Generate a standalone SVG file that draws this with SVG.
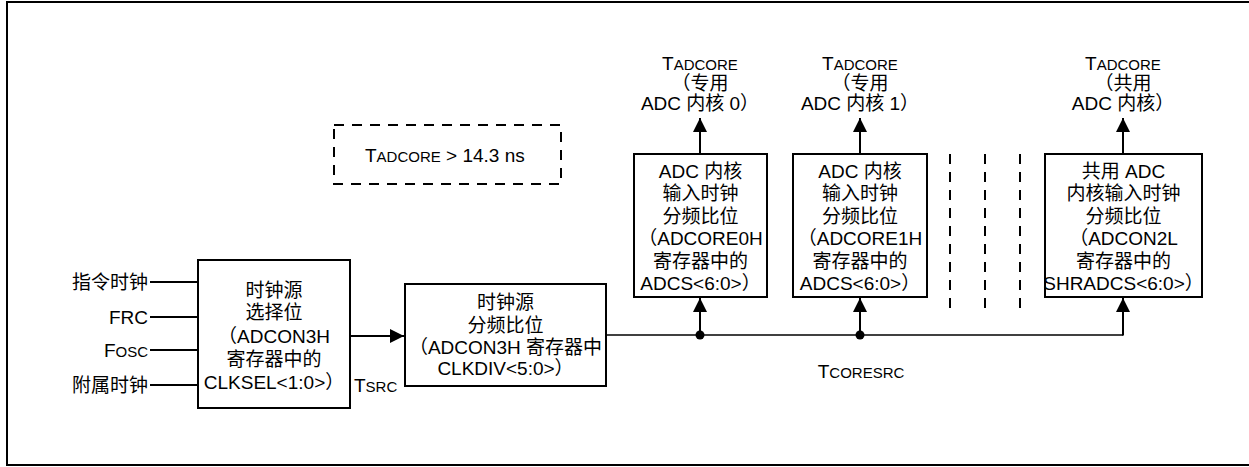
<svg xmlns="http://www.w3.org/2000/svg" width="1249" height="467" viewBox="0 0 1249 467">
<style>
text{font-family:"Liberation Sans","Noto Sans CJK SC",sans-serif;font-size:19px;fill:#000}
.m{text-anchor:middle}
.e{text-anchor:end}
.sc{font-size:15px}
.box{fill:#fff;stroke:#000;stroke-width:2}
.ln{fill:none;stroke:#000;stroke-width:2}
.bus{fill:none;stroke:#000;stroke-width:1.3}
.dash{fill:none;stroke:#000;stroke-width:2;stroke-dasharray:10 8}
</style>
<defs>
<marker id="ah" markerUnits="userSpaceOnUse" markerWidth="15" markerHeight="14" refX="14" refY="7" orient="auto">
<path d="M0,0 L14,7 L0,14 z" fill="#000"/>
</marker>
</defs>
<rect width="1249" height="467" fill="#fff"/>
<path d="M1249,2 H7 V465 H1249" fill="none" stroke="#000" stroke-width="2"/>

<g id="inputs">
<text class="e" x="148" y="289">指令时钟</text>
<text class="e" x="148" y="324">FRC</text>
<text class="e" x="148" y="357">F<tspan class="sc">OSC</tspan></text>
<text class="e" x="148" y="392">附属时钟</text>
</g>

<g id="connectors">
<path class="ln" d="M150,282 H198 M150,317 H198 M150,350 H198 M150,385 H198"/>
<path class="ln" d="M350,336 H404" marker-end="url(#ah)"/>
<path class="bus" d="M606,335 H1123"/>
<path class="ln" d="M1123,335.6 V298" marker-end="url(#ah)"/>
<path class="ln" d="M700,335 V298" marker-end="url(#ah)"/>
<path class="ln" d="M860,335 V298" marker-end="url(#ah)"/>
<circle cx="700" cy="335" r="4.5" fill="#000"/>
<circle cx="860" cy="335" r="4.5" fill="#000"/>
<path class="ln" d="M700,154 V118" marker-end="url(#ah)"/>
<path class="ln" d="M860,154 V118" marker-end="url(#ah)"/>
<path class="ln" d="M1123,154 V118" marker-end="url(#ah)"/>
<path class="dash" d="M950,154 V312 M985,154 V312 M1020,154 V312"/>
</g>

<g id="clksel">
<rect class="box" x="198" y="260" width="152" height="148"/>
<text class="m" x="274" y="297">时钟源</text>
<text class="m" x="274" y="319">选择位</text>
<text class="m" x="274" y="343">（ADCON3H</text>
<text class="m" x="274" y="366">寄存器中的</text>
<text class="m" x="274" y="389">CLKSEL&lt;1:0&gt;）</text>
</g>

<g id="tsrc">
<text x="354" y="392">T<tspan class="sc">SRC</tspan></text>
</g>

<g id="clkdiv">
<rect class="box" x="405" y="284" width="201" height="102"/>
<text class="m" x="505.5" y="309">时钟源</text>
<text class="m" x="505.5" y="332">分频比位</text>
<text class="m" x="505.5" y="354">（ADCON3H 寄存器中</text>
<text class="m" x="505.5" y="375">CLKDIV&lt;5:0&gt;）</text>
</g>

<g id="tcoresrc">
<text class="m" x="861" y="378">T<tspan class="sc">CORESRC</tspan></text>
</g>

<g id="note">
<rect class="dash" x="334" y="125" width="227" height="59"/>
<text x="365" y="162">T<tspan class="sc">ADCORE</tspan> &gt; 14.3 ns</text>
</g>

<g id="core0">
<rect class="box" x="634" y="154" width="133" height="143"/>
<text class="m" x="700.5" y="178">ADC 内核</text>
<text class="m" x="700.5" y="200">输入时钟</text>
<text class="m" x="700.5" y="223">分频比位</text>
<text class="m" x="700.5" y="245">（ADCORE0H</text>
<text class="m" x="700.5" y="268">寄存器中的</text>
<text class="m" x="700.5" y="290">ADCS&lt;6:0&gt;）</text>
</g>
<g id="core0-label">
<text class="m" x="700" y="70">T<tspan class="sc">ADCORE</tspan></text>
<text class="m" x="700" y="90">（专用</text>
<text class="m" x="700" y="110">ADC 内核 0）</text>
</g>

<g id="core1">
<rect class="box" x="793" y="154" width="134" height="143"/>
<text class="m" x="860" y="178">ADC 内核</text>
<text class="m" x="860" y="200">输入时钟</text>
<text class="m" x="860" y="223">分频比位</text>
<text class="m" x="860" y="245">（ADCORE1H</text>
<text class="m" x="860" y="268">寄存器中的</text>
<text class="m" x="860" y="290">ADCS&lt;6:0&gt;）</text>
</g>
<g id="core1-label">
<text class="m" x="860" y="70">T<tspan class="sc">ADCORE</tspan></text>
<text class="m" x="860" y="90">（专用</text>
<text class="m" x="860" y="110">ADC 内核 1）</text>
</g>

<g id="shared">
<rect class="box" x="1045" y="154" width="157" height="143"/>
<text class="m" x="1123.5" y="178">共用 ADC</text>
<text class="m" x="1123.5" y="200">内核输入时钟</text>
<text class="m" x="1123.5" y="223">分频比位</text>
<text class="m" x="1123.5" y="245">（ADCON2L</text>
<text class="m" x="1123.5" y="268">寄存器中的</text>
<text class="m" x="1123.5" y="290">SHRADCS&lt;6:0&gt;）</text>
</g>
<g id="shared-label">
<text class="m" x="1123" y="70">T<tspan class="sc">ADCORE</tspan></text>
<text class="m" x="1123" y="90">（共用</text>
<text class="m" x="1123" y="110">ADC 内核）</text>
</g>
</svg>
